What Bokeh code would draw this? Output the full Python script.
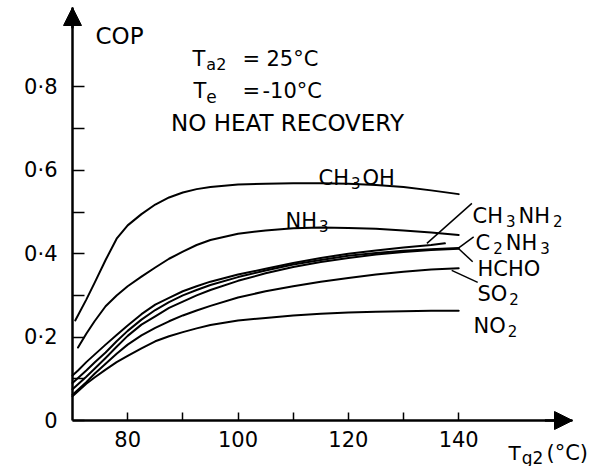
from bokeh.plotting import figure
from bokeh.models import Range1d, FixedTicker, Label, Arrow, NormalHead
from bokeh.embed import file_html
from bokeh.resources import INLINE

# ---------------- data ----------------
tg2 = [70, 71, 72.5, 74, 76, 78, 80, 82.5, 85, 87.5, 90, 92.5, 95, 100,
       105, 110, 115, 120, 125, 130, 135, 140]

ch3oh_x = [70.5, 72.5, 74, 76, 78, 80, 82.5, 85, 87.5, 90, 92.5, 95, 100,
           105, 110, 115, 120, 125, 130, 135, 140]
ch3oh_y = [0.24, 0.29, 0.33, 0.385, 0.436, 0.468, 0.495, 0.518, 0.535, 0.547, 0.555, 0.56, 0.566,
           0.568, 0.569, 0.569, 0.568, 0.565, 0.56, 0.552, 0.543]

nh3_x = [71, 72.5, 74, 76, 78, 80, 82.5, 85, 87.5, 90, 92.5, 95, 100,
         105, 110, 115, 120, 125, 130, 135, 140]
nh3_y = [0.175, 0.208, 0.238, 0.274, 0.3, 0.322, 0.345, 0.367, 0.388, 0.405, 0.421, 0.433, 0.448,
         0.456, 0.461, 0.463, 0.462, 0.46, 0.456, 0.451, 0.445]

ch3nh2_x = [70, 71, 72.5, 74, 76, 78, 80, 82.5, 85, 87.5, 90, 92.5, 95, 100,
            105, 110, 115, 120, 125, 130, 135, 137.5]
ch3nh2_y = [0.108, 0.12, 0.14, 0.158, 0.182, 0.205, 0.228, 0.255, 0.278, 0.294, 0.31, 0.322, 0.333, 0.35,
            0.364, 0.378, 0.39, 0.4, 0.408, 0.415, 0.421, 0.425]

c2nh3_y = [0.09, 0.102, 0.12, 0.139, 0.163, 0.19, 0.215, 0.242, 0.265, 0.284, 0.3, 0.313, 0.325, 0.344,
           0.36, 0.374, 0.385, 0.395, 0.402, 0.407, 0.411, 0.414]
hcho_y = [0.075, 0.087, 0.105, 0.124, 0.15, 0.177, 0.203, 0.23, 0.25, 0.27, 0.285, 0.3, 0.313, 0.335,
          0.353, 0.368, 0.38, 0.39, 0.398, 0.404, 0.409, 0.412]
so2_y = [0.062, 0.074, 0.092, 0.112, 0.136, 0.16, 0.182, 0.204, 0.222, 0.238, 0.252, 0.264, 0.275, 0.295,
         0.31, 0.322, 0.333, 0.342, 0.35, 0.357, 0.362, 0.365]
no2_y = [0.058, 0.07, 0.088, 0.103, 0.122, 0.14, 0.155, 0.173, 0.19, 0.202, 0.212, 0.221, 0.229, 0.24,
         0.246, 0.252, 0.256, 0.259, 0.261, 0.262, 0.263, 0.263]

x_ticks = [80, 100, 120, 140]
x_minor = [90, 110, 130]
y_ticks = [0, 0.2, 0.4, 0.6, 0.8]
y_tick_labels = ["0", "0\u00b72", "0\u00b74", "0\u00b76", "0\u00b78"]
y_minor = [0.1, 0.3, 0.5, 0.7]

# ---------------- layout ----------------
W, H = 598, 466
FL, FR, FT, FB = 72, 572, 7, 420      # axis box in canvas pixels
XPX = 5.517
YPX = 416.9
X0 = 70
X1 = X0 + (FR - FL) / XPX
Y1 = (FB - FT) / YPX
FONT = "DejaVu Sans"


def px2x(px):
    return X0 + (px - FL) / XPX


def py2y(py):
    return (FB - py) / YPX


p = figure(width=W, height=H,
           x_range=Range1d(px2x(0), px2x(W)), y_range=Range1d(py2y(H), py2y(0)),
           output_backend="svg", toolbar_location=None, min_border=0)
p.grid.visible = False
p.outline_line_color = None
p.background_fill_color = "white"
p.border_fill_color = "white"

xa = p.xaxis[0]
xa.fixed_location = 0
xa.bounds = (X0, X1)
xa.ticker = FixedTicker(ticks=x_ticks, minor_ticks=x_minor)
xa.major_tick_in = 8
xa.major_tick_out = 0
xa.minor_tick_in = 8
xa.minor_tick_out = 0
xa.axis_line_width = 2.5
xa.major_tick_line_width = 1.5
xa.minor_tick_line_width = 1.5
xa.major_label_text_font = FONT
xa.major_label_text_font_size = "21px"
xa.major_label_text_color = "black"
xa.major_label_standoff = 10

ya = p.yaxis[0]
ya.fixed_location = X0
ya.bounds = (0, Y1)
ya.ticker = FixedTicker(ticks=y_ticks, minor_ticks=y_minor)
ya.major_label_overrides = {v: t for v, t in zip(y_ticks, y_tick_labels)}
ya.major_tick_in = 12
ya.major_tick_out = 0
ya.minor_tick_in = 12
ya.minor_tick_out = 0
ya.axis_line_width = 2.5
ya.major_tick_line_width = 1.5
ya.minor_tick_line_width = 1.5
ya.major_label_text_font = FONT
ya.major_label_text_font_size = "21px"
ya.major_label_text_color = "black"
ya.major_label_standoff = 15

# axis arrow heads
p.add_layout(Arrow(end=NormalHead(size=18, fill_color="black", line_color="black"),
                   x_start=X0, y_start=Y1 - 0.05, x_end=X0, y_end=Y1,
                   line_width=2.5, line_color="black"))
p.add_layout(Arrow(end=NormalHead(size=18, fill_color="black", line_color="black"),
                   x_start=X1 - 5, y_start=0, x_end=X1, y_end=0,
                   line_width=2.5, line_color="black"))

# curves
series = [
    (ch3oh_x, ch3oh_y), (nh3_x, nh3_y), (ch3nh2_x, ch3nh2_y),
    (tg2, c2nh3_y), (tg2, hcho_y), (tg2, so2_y), (tg2, no2_y),
]
for xs, ys in series:
    p.line(xs, ys, line_color="black", line_width=2, line_join="round", line_cap="round")


# leader lines (pixel offsets from a curve end point)
def leader(xs, ys, dx0, dy0, dx1, dy1):
    xe, ye = xs[-1], ys[-1]
    p.segment(x0=[xe + dx0 / XPX], y0=[ye - dy0 / YPX],
              x1=[xe + dx1 / XPX], y1=[ye - dy1 / YPX],
              line_color="black", line_width=1.5)


leader(ch3nh2_x, ch3nh2_y, -18, 0, 27, -40)
leader(tg2, c2nh3_y, 0, 0, 15, -11)
leader(tg2, hcho_y, 0, 0, 14, 13)
leader(tg2, so2_y, -7, 2, 19, 14)


def txt(text, px, py, size, align="left"):
    p.add_layout(Label(x=px2x(px), y=py2y(py), text=text, text_font=FONT,
                       text_font_size=f"{size}px", text_color="black",
                       text_baseline="alphabetic", text_align=align))


EM = {"C": .698, "H": .752, "O": .787, "N": .748, "S": .635, "T": .611,
      "a": .613, "e": .615, "g": .635}


def formula(parts, px, py, size=21, sub=15, drop=5, gap=2.0):
    x = px
    for s, is_sub in parts:
        fs = sub if is_sub else size
        txt(s, x, py + (drop if is_sub else 0), fs)
        x += sum(EM.get(c, .636) for c in s) * fs + gap


# y axis title
txt("COP", 95, 35, 23)
# conditions
formula([("T", False), ("a2", True)], 192, 58, size=21, sub=16, drop=6, gap=1)
txt("=", 242, 58, 21)
txt("25\u00b0C", 266, 58, 21)
formula([("T", False), ("e", True)], 193, 90, size=21, sub=17, drop=6, gap=0)
txt("=", 242, 90, 21)
txt("-10\u00b0C", 262, 90, 21)
txt("NO HEAT RECOVERY", 287, 122, 23, align="center")

# curve labels
formula([("CH", False), ("3", True), ("OH", False)], 318, 177)
formula([("NH", False), ("3", True)], 285, 220)
formula([("CH", False), ("3", True), ("NH", False), ("2", True)], 472, 215, gap=3)
formula([("C", False), ("2", True), ("NH", False), ("3", True)], 475, 242, gap=3)
txt("HCHO", 477, 268, 21)
formula([("SO", False), ("2", True)], 477, 293)
formula([("NO", False), ("2", True)], 473, 325)

# x axis title
formula([("T", False), ("g2", True)], 508, 452, size=20, sub=17, drop=5, gap=1)
txt("(\u00b0C)", 546, 452, 21)

open("out.html", "w").write(file_html(p, INLINE))
